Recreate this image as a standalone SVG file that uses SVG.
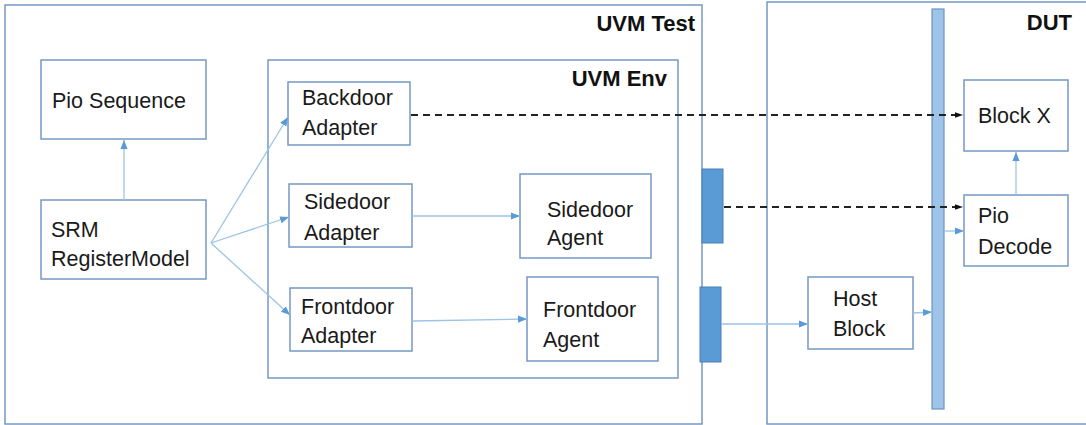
<svg xmlns="http://www.w3.org/2000/svg" width="1086" height="425" viewBox="0 0 1086 425">
<style>
.box{fill:#fff;stroke:#7698C4;stroke-width:1.5}
.frame{fill:none;stroke:#7698C4;stroke-width:1.5}
.t{font-family:"Liberation Sans",Arial,sans-serif;font-size:21.5px;fill:#1a1a1a}
.b{font-family:"Liberation Sans",Arial,sans-serif;font-size:22px;font-weight:bold;fill:#111;text-anchor:end}
.ln{fill:none;stroke:#9DC3E6;stroke-width:1.3;marker-end:url(#ab)}
.dash{fill:none;stroke:#222;stroke-width:2;stroke-dasharray:7 5;marker-end:url(#ak)}
.port{fill:#5B9BD5;stroke:#4A7FB5;stroke-width:1}
</style>
<defs>
<marker id="ab" viewBox="0 0 10 10" refX="10" refY="5" markerWidth="9" markerHeight="9" markerUnits="userSpaceOnUse" orient="auto"><path d="M0,1 L10,5 L0,9 z" fill="#5B9BD5"/></marker>
<marker id="ak" viewBox="0 0 10 10" refX="10" refY="5" markerWidth="8" markerHeight="8" markerUnits="userSpaceOnUse" orient="auto"><path d="M0,1.5 L10,5 L0,8.5 z" fill="#111"/></marker>
</defs>
<rect width="1086" height="425" fill="#fff"/>
<g id="uvm-test">
<rect class="frame" x="5" y="5" width="697" height="419"/>
<text class="b" x="695" y="31">UVM Test</text>
</g>
<g id="dut">
<rect class="frame" x="767" y="2" width="330" height="422"/>
<text class="b" x="1072" y="30">DUT</text>
</g>
<g id="uvm-env">
<rect class="frame" x="268" y="60" width="410" height="318"/>
<text class="b" x="667" y="86">UVM Env</text>
</g>
<g id="pio-sequence">
<rect class="box" x="41" y="60" width="165" height="79"/>
<text class="t" x="52" y="108">Pio Sequence</text>
</g>
<g id="srm">
<rect class="box" x="41" y="200" width="165" height="79"/>
<text class="t" x="51" y="237">SRM</text>
<text class="t" x="51" y="266">RegisterModel</text>
</g>
<g id="backdoor-adapter">
<rect class="box" x="288" y="82" width="122" height="63"/>
<text class="t" x="302" y="105">Backdoor</text>
<text class="t" x="302" y="135">Adapter</text>
</g>
<g id="sidedoor-adapter">
<rect class="box" x="289" y="184" width="123" height="63"/>
<text class="t" x="304" y="209">Sidedoor</text>
<text class="t" x="304" y="240">Adapter</text>
</g>
<g id="frontdoor-adapter">
<rect class="box" x="290" y="288" width="122" height="63"/>
<text class="t" x="301" y="314">Frontdoor</text>
<text class="t" x="301" y="343">Adapter</text>
</g>
<g id="sidedoor-agent">
<rect class="box" x="520" y="174" width="131" height="84"/>
<text class="t" x="547" y="217">Sidedoor</text>
<text class="t" x="547" y="245">Agent</text>
</g>
<g id="frontdoor-agent">
<rect class="box" x="527" y="277" width="131" height="84"/>
<text class="t" x="543" y="317">Frontdoor</text>
<text class="t" x="543" y="347">Agent</text>
</g>
<g id="port-sidedoor">
<rect class="port" x="702" y="169" width="21" height="74"/>
</g>
<g id="port-frontdoor">
<rect class="port" x="700" y="287" width="21" height="75"/>
</g>
<g id="bus">
<rect x="932" y="9" width="12" height="400" fill="#9DC3E6" stroke="#6D94C4" stroke-width="1.2"/>
</g>
<g id="host-block">
<rect class="box" x="808" y="277" width="105" height="72"/>
<text class="t" x="833" y="306">Host</text>
<text class="t" x="833" y="336">Block</text>
</g>
<g id="block-x">
<rect class="box" x="964" y="80" width="104" height="71"/>
<text class="t" x="978" y="123">Block X</text>
</g>
<g id="pio-decode">
<rect class="box" x="964" y="195" width="104" height="71"/>
<text class="t" x="978" y="223">Pio</text>
<text class="t" x="978" y="254">Decode</text>
</g>
<g id="connectors">
<line class="ln" x1="124" y1="200" x2="124" y2="140"/>
<line class="ln" x1="211" y1="243" x2="288" y2="117"/>
<line class="ln" x1="211" y1="243" x2="289" y2="217"/>
<line class="ln" x1="211" y1="243" x2="290" y2="315"/>
<line class="ln" x1="412" y1="216" x2="520" y2="216"/>
<line class="ln" x1="412" y1="321" x2="527" y2="319"/>
<line class="ln" x1="721" y1="324" x2="808" y2="324"/>
<line class="ln" x1="913" y1="313" x2="932" y2="312"/>
<line class="ln" x1="944" y1="231" x2="964" y2="231"/>
<line class="ln" x1="1016" y1="195" x2="1016" y2="152"/>
<line class="dash" x1="411" y1="115" x2="963" y2="115"/>
<line class="dash" x1="724" y1="207" x2="963" y2="207"/>
</g>
</svg>
